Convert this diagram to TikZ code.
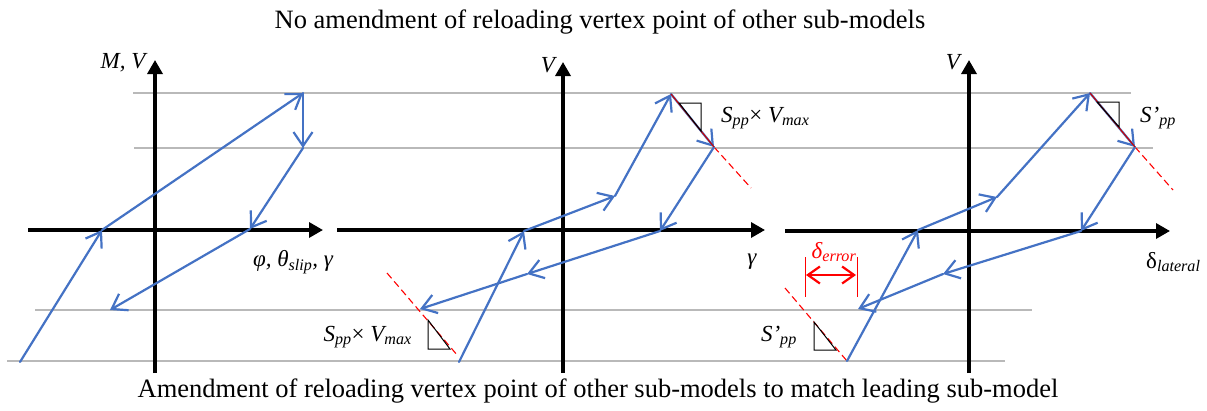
\documentclass[tikz,border=0pt]{standalone}
\usepackage{fontspec}
\setmainfont{Liberation Serif}
\usetikzlibrary{arrows.meta}
\definecolor{curveblue}{RGB}{68,114,196}
\definecolor{gridgray}{RGB}{185,185,185}
\newcommand{\sbx}[1]{\textsubscript{\itshape #1}}
\tikzset{
  gline/.style={draw=gridgray, line width=1.2pt},
  axisline/.style={draw=black, line width=3.3pt, -{Triangle[length=14pt,width=15pt]}},
  curve/.style={draw=curveblue, line width=2.2pt, line cap=round, -{Straight Barb[length=14pt,width=19pt]}},
  reddash/.style={draw=red, line width=1.1pt, dash pattern=on 7pt off 4pt},
  redsolid/.style={draw=red!80!black, line width=1.1pt},
  tri/.style={draw=black, line width=1pt},
  lbl/.style={font=\fontsize{23}{25}\selectfont\itshape, inner sep=0pt},
  ttl/.style={font=\fontsize{26.5}{29}\selectfont, inner sep=0pt},
}
\begin{document}
\begin{tikzpicture}[x=1pt,y=-1pt]
\useasboundingbox (0,0) rectangle (1207,410);
% grid lines
\coordinate (g1a) at (133,93);  \coordinate (g1b) at (1131,93);
\coordinate (g2a) at (134,148); \coordinate (g2b) at (1153,148);
\coordinate (g3a) at (35,310);  \coordinate (g3b) at (1032,310);
\coordinate (g4a) at (7,361);   \coordinate (g4b) at (1005,361);
\draw[gline] (g1a) -- (g1b);
\draw[gline] (g2a) -- (g2b);
\draw[gline] (g3a) -- (g3b);
\draw[gline] (g4a) -- (g4b);
% axes
\coordinate (a1x0) at (28,230);  \coordinate (a1x1) at (323,230);
\coordinate (a1y0) at (155,373); \coordinate (a1y1) at (155,60);
\coordinate (a2x0) at (337,230); \coordinate (a2x1) at (765,230);
\coordinate (a2y0) at (563,373); \coordinate (a2y1) at (563,62);
\coordinate (a3x0) at (785,231); \coordinate (a3x1) at (1170,231);
\coordinate (a3y0) at (969,373); \coordinate (a3y1) at (969,60);
\draw[axisline] (a1x0) -- (a1x1);
\draw[axisline] (a1y0) -- (a1y1);
\draw[axisline] (a2x0) -- (a2x1);
\draw[axisline] (a2y0) -- (a2y1);
\draw[axisline] (a3x0) -- (a3x1);
\draw[axisline] (a3y0) -- (a3y1);
% panel 1 curve
\coordinate (p1) at (20,362);
\coordinate (p2) at (102,230);
\coordinate (p3) at (303,93);
\coordinate (p4) at (303,148);
\coordinate (p5) at (250,229);
\coordinate (p6) at (110,310);
\draw[curve] (p1) -- (p2);
\draw[curve] (p2) -- (p3);
\draw[curve] (p3) -- (p4);
\draw[curve] (p4) -- (p5);
\draw[curve] (p5) -- (p6);
% panel 2 dashed lines and curve
\coordinate (q1) at (459,362);
\coordinate (q2) at (524,231);
\coordinate (q3) at (615,196);
\coordinate (q4) at (671,94);
\coordinate (q5) at (714,147);
\coordinate (q6) at (660,231);
\coordinate (q7) at (527,274);
\coordinate (q8) at (420,309);
\coordinate (qd1) at (751,188);
\coordinate (qd2) at (387,273);
\coordinate (qd3) at (458,356);
\draw[reddash] (q5) -- (qd1);
\draw[reddash] (qd2) -- (qd3);
\draw[curve] (q1) -- (q2);
\draw[curve] (q2) -- (q3);
\draw[curve] (q3) -- (q4);
\draw[curve] (q4) -- (q5);
\draw[curve] (q5) -- (q6);
\draw[curve] (q6) -- (q7);
\draw[curve] (q7) -- (q8);
\draw[redsolid] (q4) -- (q5);
% panel 2 triangles
\coordinate (t1a) at (679,103); \coordinate (t1b) at (701,103); \coordinate (t1c) at (701,131);
\draw[tri] (t1a) -- (t1b) -- (t1c) -- cycle;
\coordinate (t2a) at (428,320); \coordinate (t2b) at (428,349); \coordinate (t2c) at (450,349);
\draw[tri] (t2a) -- (t2b) -- (t2c) -- cycle;
% panel 3 dashed lines and curve
\coordinate (r1) at (847,361);
\coordinate (r2) at (918,230);
\coordinate (r3) at (997,197);
\coordinate (r4) at (1090,93);
\coordinate (r5) at (1135,147);
\coordinate (r6) at (1081,231);
\coordinate (r7) at (943,274);
\coordinate (r8) at (858,309);
\coordinate (rd1) at (1173,190);
\coordinate (rd2) at (785,288);
\draw[reddash] (r5) -- (rd1);
\draw[reddash] (rd2) -- (r1);
\draw[curve] (r1) -- (r2);
\draw[curve] (r2) -- (r3);
\draw[curve] (r3) -- (r4);
\draw[curve] (r4) -- (r5);
\draw[curve] (r5) -- (r6);
\draw[curve] (r6) -- (r7);
\draw[curve] (r7) -- (r8);
\draw[redsolid] (r4) -- (r5);
% panel 3 triangles
\coordinate (t3a) at (1097,102); \coordinate (t3b) at (1119,102); \coordinate (t3c) at (1119,127);
\draw[tri] (t3a) -- (t3b) -- (t3c) -- cycle;
\coordinate (t4a) at (814,322); \coordinate (t4b) at (814,350); \coordinate (t4c) at (836,350);
\draw[tri] (t4a) -- (t4b) -- (t4c) -- cycle;
% delta error
\coordinate (e1a) at (805,257); \coordinate (e1b) at (805,297);
\coordinate (e2a) at (857,257); \coordinate (e2b) at (857,297);
\draw[draw=red, line width=1pt] (e1a) -- (e1b);
\draw[draw=red, line width=1pt] (e2a) -- (e2b);
\coordinate (e3a) at (806,275); \coordinate (e3b) at (856,275);
\draw[draw=red, line width=2.2pt, {Straight Barb[length=12pt,width=17pt]}-{Straight Barb[length=12pt,width=17pt]}] (e3a) -- (e3b);
\node[lbl, text=red] (derr) at (834,252) {δ\sbx{error}};
% labels
\node[lbl] (lMV) at (123,63) {M, V};
\node[lbl] (lphi) at (293,262) {φ, θ\sbx{slip}, γ};
\node[lbl] (lV2) at (548,65) {V};
\node[lbl] (lg2) at (752,262) {γ};
\node[lbl, anchor=west] (ls1) at (721,118) {S\sbx{pp}\upshape × \itshape V\sbx{max}};
\node[lbl, anchor=east] (ls2) at (412,337) {S\sbx{pp}\upshape × \itshape V\sbx{max}};
\node[lbl] (lV3) at (953,62) {V};
\node[lbl, anchor=west] (ldl) at (1146,262) {\upshape δ\sbx{lateral}};
\node[lbl, anchor=west] (ls3) at (1140,118) {S’\sbx{pp}};
\node[lbl, anchor=east] (ls4) at (797,337) {S’\sbx{pp}};
% titles
\node[ttl] (top) at (600,22) {No amendment of reloading vertex point of other sub-models};
\node[ttl] (bot) at (598,391) {Amendment of reloading vertex point of other sub-models to match leading sub-model};
\end{tikzpicture}
\end{document}
